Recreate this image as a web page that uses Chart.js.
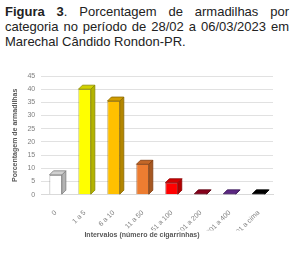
<!DOCTYPE html>
<html><head><meta charset="utf-8">
<script src="https://cdn.jsdelivr.net/npm/chart.js@4"></script>
<style>
html,body{margin:0;padding:0;background:#fff;width:300px;height:255px;overflow:hidden}
#t{position:absolute;left:5px;top:4px;width:284px;font-family:"Liberation Sans",Arial,sans-serif;font-size:13px;line-height:15px;color:#222;text-align:justify;text-align-last:left}
#c{position:absolute;left:0;top:55px;width:300px;height:200px}
</style></head><body>
<div id="t"><b>Figura 3</b>. Porcentagem de armadilhas por categoria no período de 28/02 a 06/03/2023 em Marechal Cândido Rondon-PR.</div>
<div id="c"><canvas id="cv"></canvas></div>
<script>
const categories = ["0","1 a 5","6 a 10","11 a 50","51 a 100","101 a 200","201 a 400","401 a cima"];
const values = [7.5, 40, 35.5, 11.5, 4.5, 0.3, 0.3, 0.3];
const yTicks = [0,5,10,15,20,25,30,35,40,45];
const colors = ["#ffffff","#ffff00","#ffc000","#ed7d31","#ff0000","#a50021","#7030a0","#000000"];
const borders = ["#7f7f7f","#8c8c00","#8c6a00","#843c0c","#8b0000","#5a0012","#3c1a58","#000000"];

function shade(hex, f){
  const n=parseInt(hex.slice(1),16);
  let r=(n>>16)&255,g=(n>>8)&255,b=n&255;
  r=Math.round(r*f);g=Math.round(g*f);b=Math.round(b*f);
  return `rgb(${r},${g},${b})`;
}
const bar3d = {
  id:'bar3d',
  afterDatasetsDraw(chart){
    const ctx=chart.ctx, d=4;
    chart.getDatasetMeta(0).data.forEach((el,i)=>{
      const {x,y,width,base}=el.getProps(['x','y','width','base'],true);
      const l=x-width/2, r=x+width/2;
      ctx.save();
      ctx.lineWidth=0.8; ctx.strokeStyle=borders[i];
      ctx.fillStyle=shade(colors[i],0.7);
      ctx.beginPath();ctx.moveTo(r,y);ctx.lineTo(r+d,y-d);ctx.lineTo(r+d,base-d);ctx.lineTo(r,base);ctx.closePath();ctx.fill();ctx.stroke();
      ctx.fillStyle=shade(colors[i],0.82);
      ctx.beginPath();ctx.moveTo(l,y);ctx.lineTo(l+d,y-d);ctx.lineTo(r+d,y-d);ctx.lineTo(r,y);ctx.closePath();ctx.fill();ctx.stroke();
      ctx.restore();
    });
  }
};
new Chart(document.getElementById('cv'),{
  type:'bar',
  data:{labels:categories,datasets:[{data:values,backgroundColor:colors,borderColor:borders,borderWidth:0.8,barPercentage:0.45,categoryPercentage:0.95}]},
  options:{
    responsive:true,maintainAspectRatio:false,animation:false,
    layout:{padding:{left:11,right:27,top:21,bottom:0}},
    plugins:{legend:{display:false},tooltip:{enabled:false},
      title:{display:true,position:'bottom',text:'Intervalos (número de cigarrinhas)',color:'#595959',font:{size:7,weight:'bold',family:'Liberation Sans'},padding:{top:0,bottom:16}}},
    scales:{
      y:{min:0,max:45,afterBuildTicks(s){s.ticks=yTicks.map(v=>({value:v}));},
        grid:{color:'#d9d9d9',lineWidth:0.8,drawTicks:false},border:{display:false},
        ticks:{color:'#7f7f7f',font:{size:7,family:'Liberation Sans'},padding:6},
        title:{display:true,text:'Porcentagem de armadilhas',color:'#595959',font:{size:7,weight:'bold',family:'Liberation Sans'},padding:{top:0,bottom:2}}},
      x:{grid:{display:false},border:{color:'#d9d9d9'},
        afterFit(s){s.height=36;},
        ticks:{color:'#7f7f7f',font:{size:7,family:'Liberation Sans'},maxRotation:45,minRotation:45,padding:6}}
    }
  },
  plugins:[bar3d]
});
</script>
</body></html>
